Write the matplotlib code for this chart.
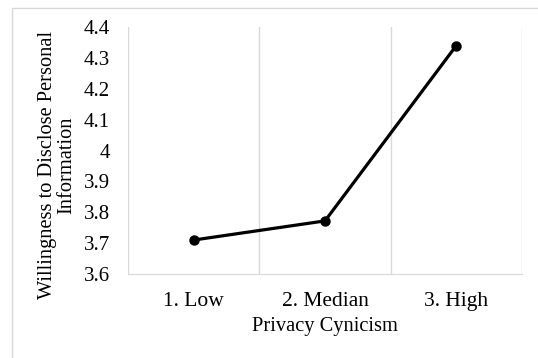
import matplotlib
matplotlib.use("Agg")
import matplotlib.pyplot as plt
from matplotlib.patches import Rectangle

categories = ["1. Low", "2. Median", "3. High"]
values = [3.71, 3.772, 4.34]
yticks = [3.6, 3.7, 3.8, 3.9, 4.0, 4.1, 4.2, 4.3, 4.4]
ytick_labels = ["3.6", "3.7", "3.8", "3.9", "4", "4.1", "4.2", "4.3", "4.4"]

plt.rcParams['font.family'] = ['Liberation Serif', 'DejaVu Serif']

W, H = 538, 358
fig = plt.figure(figsize=(W/100, H/100), dpi=100)
fig.patches.append(Rectangle((12/W, -0.1), 1.2, (H-8)/H + 0.1, transform=fig.transFigure,
                             fill=False, edgecolor='#d9d9d9', linewidth=1.0))

ax = fig.add_axes([128/W, 1 - 274/H, (522-128)/W, (274-27)/H])
x = list(range(len(categories)))
ax.plot(x, values, color='black', linewidth=2.3, marker='o', markersize=6.5, solid_capstyle='round')
ax.set_xlim(-0.5, len(categories) - 0.5)
ax.set_ylim(3.6, 4.4)
ax.set_yticks(yticks)
ax.set_yticklabels(ytick_labels, fontsize=15)
ax.set_xticks(x)
ax.set_xticklabels(categories, fontsize=15.5)
for b in [-0.5, 0.5, 1.5, 2.5]:
    ax.axvline(b, color='#d9d9d9', linewidth=1.0, zorder=0)
for s in ['top', 'left', 'right']:
    ax.spines[s].set_visible(False)
ax.spines['bottom'].set_color('#d9d9d9')
ax.tick_params(axis='both', length=0)
ax.tick_params(axis='y', pad=13)
ax.tick_params(axis='x', pad=13)

fig.text(325/W, 1 - 327/H, "Privacy Cynicism", ha='center', va='center', fontsize=14.7)
fig.text(57/W, 1 - 165/H, "Willingness to Disclose Personal\nInformation", ha='center', va='center',
         rotation=90, fontsize=14.7, linespacing=1.05, multialignment='center')

fig.savefig("out.png", dpi=100)
